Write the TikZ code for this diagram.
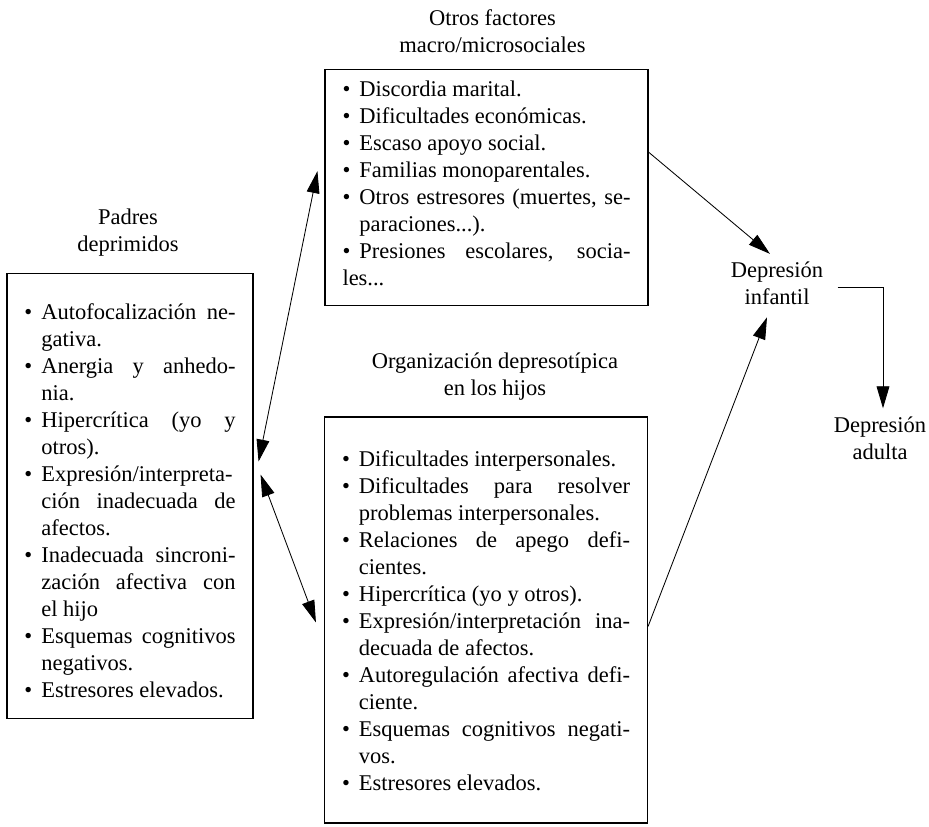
\documentclass[tikz,border=0pt]{standalone}
\usepackage{fontspec}
\setmainfont{Liberation Serif}
\usepackage{tikz}
\usetikzlibrary{positioning,arrows.meta}
\newcommand{\letra}{\fontsize{16}{19.2}\selectfont}
\newcommand{\itm}{\par\hangindent=12pt\hangafter=1\noindent\makebox[12pt][l]{\textbullet}}
\tolerance=10000 \hbadness=10000
\tikzset{node distance=0.4cm, auto,
  >={Triangle[length=5.5mm,width=3.2mm]},
  caja/.style={draw, line width=0.8pt, align=justify, inner xsep=0.4375cm, inner ysep=0pt, font=\letra},
  titulo/.style={align=center, inner sep=0pt, font=\letra},
  flecha/.style={line width=0.6pt}}

\begin{document}
\begin{tikzpicture}
  \useasboundingbox (0,0) rectangle (23.225,-20.675);
  % cajas
  \node[caja, text width=5.275cm, minimum height=11.125cm] (padres) at (3.25,-12.39) {%
    \itm Autofocalización ne-\linebreak gativa.
    \itm Anergia y anhedo-\linebreak nia.
    \itm Hipercrítica (yo y\linebreak otros).
    \itm Expresión/interpreta-\linebreak ción inadecuada de\linebreak afectos.
    \itm Inadecuada sincroni-\linebreak zación afectiva con\linebreak el hijo
    \itm Esquemas cognitivos\linebreak negativos.
    \itm Estresores elevados.};
  \node[caja, text width=7.2cm, minimum height=5.875cm] (otros) at (12.1625,-4.6875) {%
    \itm Discordia marital.
    \itm Dificultades económicas.
    \itm Escaso apoyo social.
    \itm Familias monoparentales.
    \itm Otros estresores (muertes, se-\linebreak paraciones...).
    \itm Presiones escolares, socia-\linebreak les...\rule[-14pt]{0pt}{14pt}};
  \node[caja, text width=7.2cm, minimum height=10.15cm] (hijos) at (12.15,-15.5) {%
    \itm Dificultades interpersonales.
    \itm Dificultades para resolver\linebreak problemas interpersonales.
    \itm Relaciones de apego defi-\linebreak cientes.
    \itm Hipercrítica (yo y otros).
    \itm Expresión/interpretación ina-\linebreak decuada de afectos.
    \itm Autoregulación afectiva defi-\linebreak ciente.
    \itm Esquemas cognitivos negati-\linebreak vos.
    \itm Estresores elevados.\rule[-7pt]{0pt}{7pt}};
  % titulos
  \node[titulo, above=of padres, xshift=-0.05cm] (tpadres) {Padres\\deprimidos};
  \node[titulo, above=of otros, xshift=0.15cm] (totros) {Otros factores\\macro/microsociales};
  \node[titulo, above=of hijos, xshift=0.225cm] (thijos) {Organización depresotípica\\en los hijos};
  \node[titulo, inner sep=0.2cm] (inf) at (19.425,-7.09) {Depresión\\infantil};
  \node[titulo, inner sep=0.2cm] (adu) at (22.0,-10.95) {Depresión\\adulta};
  % flechas
  \draw[flecha,<->] ([xshift=0.125cm,yshift=-4.725cm]padres.north east) -- ([xshift=-0.175cm,yshift=-2.55cm]otros.north west);
  \draw[flecha,<->] ([xshift=0.175cm,yshift=-5.05cm]padres.north east) -- ([xshift=-0.2cm,yshift=-5.15cm]hijos.north west);
  \draw[flecha,->] ([yshift=-2.075cm]otros.north east) -- ([xshift=-0.175cm]inf.north);
  \draw[flecha,->] ([yshift=-5.25cm]hijos.north east) -- ([xshift=-0.25cm,yshift=-0.1cm]inf.south);
  \draw[flecha,->] ([xshift=0.15cm,yshift=-0.1cm]inf.east) -| ([xshift=0.075cm]adu.north);
\end{tikzpicture}
\end{document}
